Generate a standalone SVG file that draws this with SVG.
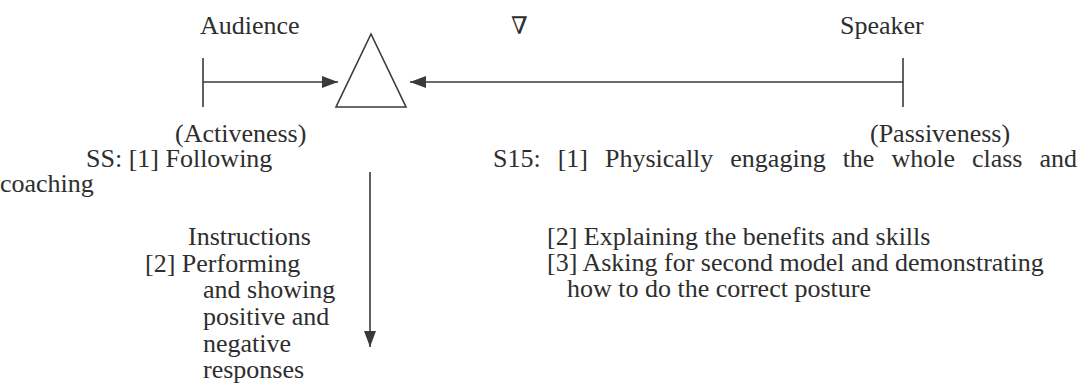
<svg xmlns="http://www.w3.org/2000/svg" width="1078" height="389" viewBox="0 0 1078 389">
<style>
text{font-family:"Liberation Serif","Times New Roman",serif;font-size:26px;fill:#2e2e2e}
.ln{stroke:#3a3a3a;stroke-width:1.6;fill:none}
</style>
<defs>
<marker id="ahb" viewBox="0 0 16 12" refX="16" refY="6" markerWidth="16" markerHeight="12" markerUnits="userSpaceOnUse" orient="auto">
<path d="M0,0 L16,6 L0,12 Z" fill="#3a3a3a"/>
</marker>
</defs>
<rect width="1078" height="389" fill="#fff"/>
<g id="audience">
<text x="200" y="34">Audience</text>
<line class="ln" x1="203" y1="58" x2="203" y2="107"/>
<text x="175" y="142">(Activeness)</text>
</g>
<g id="nabla"><text x="511" y="34" style="font-family:'DejaVu Serif',serif;font-size:24px">∇</text></g>
<g id="triangle"><polygon class="ln" points="371,34 336,107 406,107"/></g>
<g id="speaker">
<text x="840" y="34">Speaker</text>
<line class="ln" x1="903" y1="58" x2="903" y2="107"/>
<text x="870" y="142">(Passiveness)</text>
</g>
<g id="connectors">
<line class="ln" x1="203" y1="82" x2="338" y2="82" marker-end="url(#ahb)"/>
<line class="ln" x1="903" y1="82" x2="410" y2="82" marker-end="url(#ahb)"/>
<line class="ln" x1="370" y1="172" x2="370" y2="347" marker-end="url(#ahb)"/>
</g>
<g id="ss-notes">
<text x="86" y="167">SS: [1] Following</text>
<text x="0" y="192">coaching</text>
<text x="188" y="245">Instructions</text>
<text x="145" y="272">[2] Performing</text>
<text x="203" y="298">and showing</text>
<text x="203" y="325">positive and</text>
<text x="203" y="352">negative</text>
<text x="203" y="378">responses</text>
</g>
<g id="s15-notes">
<text x="493" y="167" word-spacing="10.5">S15: [1] Physically engaging the whole class and</text>
<text x="547" y="245">[2] Explaining the benefits and skills</text>
<text x="547" y="271">[3] Asking for second model and demonstrating</text>
<text x="567" y="297">how to do the correct posture</text>
</g>
</svg>
